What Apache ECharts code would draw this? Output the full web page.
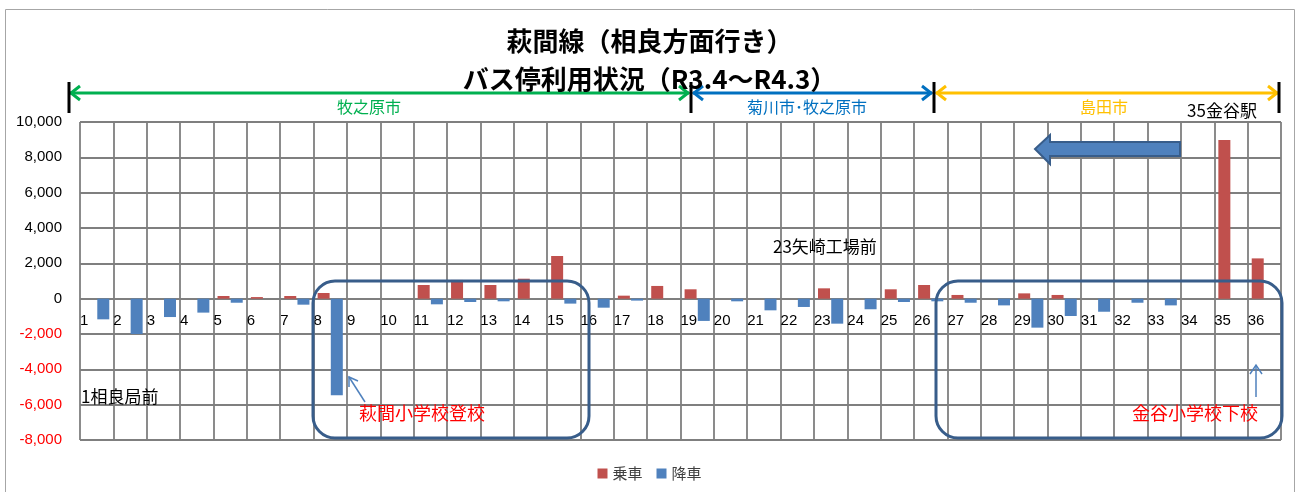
<!DOCTYPE html>
<html>
<head>
<meta charset="utf-8">
<script src="https://cdn.jsdelivr.net/npm/echarts@6/dist/echarts.min.js"></script>
<style>
  html, body { margin: 0; padding: 0; background: #fff; }
  #chart { width: 1299px; height: 492px; }
</style>
</head>
<body>
<div id="chart"></div>
<script>
// bus stops 1..36 (萩間線 相良方面行き)
var stops = ['1', '2', '3', '4', '5', '6', '7', '8', '9', '10', '11', '12',
  '13', '14', '15', '16', '17', '18', '19', '20', '21', '22', '23', '24',
  '25', '26', '27', '28', '29', '30', '31', '32', '33', '34', '35', '36'];

// 乗車 (boarding)
var boarding = [0, 0, 0, 0, 150, 90, 150, 320, 0, 0, 775, 1060,
  775, 1130, 2415, 0, 170, 720, 530, 0, 0, 0, 585, 0,
  530, 775, 210, 0, 300, 210, 0, 0, 0, 0, 8980, 2280];

// 降車 (alighting, drawn negative)
var alighting = [-1170, -2000, -1040, -790, -230, 0, -340, -5460, 0, 0, -320, -190,
  -150, 0, -280, -510, -110, 0, -1260, -150, -660, -470, -1415, -600,
  -190, -150, -230, -380, -1640, -980, -740, -230, -380, 0, 0, 0];

var gridColor = '#7f7f7f';
var font = "'Liberation Sans', 'Noto Sans CJK JP', sans-serif";
var cjk = "'Noto Sans CJK JP', sans-serif";

var chart = echarts.init(document.getElementById('chart'));

// double-headed horizontal arrow
function hArrow(x1, x2, y, color) {
  var st = { stroke: color, lineWidth: 3, fill: null };
  return [
    { type: 'line', shape: { x1: x1, y1: y, x2: x2, y2: y }, style: st },
    { type: 'polyline', shape: { points: [[x1 + 10, y - 7], [x1 + 1, y], [x1 + 10, y + 7]] }, style: st },
    { type: 'polyline', shape: { points: [[x2 - 10, y - 7], [x2 - 1, y], [x2 - 10, y + 7]] }, style: st }
  ];
}
function tick(x) {
  return { type: 'line', shape: { x1: x, y1: 82, x2: x, y2: 113 }, style: { stroke: '#000', lineWidth: 3 } };
}
function label(text, x, y, color, size, align) {
  return {
    type: 'text', z: 10,
    style: { text: text, x: x, y: y, fill: color, fontSize: size, fontFamily: cjk,
      align: align || 'center', verticalAlign: 'middle' }
  };
}

var marks = []
  .concat(hArrow(70, 689, 93, '#00b050'))
  .concat(hArrow(693, 932, 93, '#0070c0'))
  .concat(hArrow(936, 1278, 93, '#ffc000'))
  .concat([tick(69), tick(691), tick(934), tick(1279)]);

var option = {
  animation: false,
  textStyle: { fontFamily: font },
  title: {
    text: '萩間線（相良方面行き）\nバス停利用状況（R3.4～R4.3）',
    left: 'center',
    top: 17,
    textStyle: { fontSize: 26, fontWeight: 'bold', color: '#000', lineHeight: 38, fontFamily: cjk }
  },
  legend: {
    data: ['乗車', '降車'],
    top: 461,
    left: 'center',
    icon: 'rect',
    itemWidth: 10,
    itemHeight: 10,
    itemGap: 14,
    textStyle: { color: '#404040', fontSize: 15, fontFamily: cjk }
  },
  grid: { left: 80, right: 18, top: 122, bottom: 52 },
  xAxis: [{
    type: 'category',
    data: stops,
    axisLine: { show: false },
    axisTick: { show: false },
    axisLabel: { show: false },
    splitLine: { show: false }
  }, {
    // boundary axis: vertical grid lines and left-aligned stop numbers, lifted to the zero line
    type: 'category',
    position: 'bottom',
    boundaryGap: false,
    data: stops.concat(['']),
    axisLine: { show: false, onZero: false },
    axisTick: { show: false },
    axisLabel: { interval: 0, align: 'left', margin: -127, color: '#000', fontSize: 15 },
    splitLine: { show: true, interval: 0, lineStyle: { color: gridColor, width: 1.8 } }
  }],
  yAxis: {
    type: 'value',
    min: -8000,
    max: 10000,
    interval: 2000,
    axisLine: { show: false },
    axisTick: { show: false },
    axisLabel: {
      margin: 18,
      fontSize: 15,
      formatter: function (v) { return v.toLocaleString('en-US'); },
      color: function (v) { return Number(v) < 0 ? '#ff0000' : '#000'; }
    },
    splitLine: { lineStyle: { color: gridColor, width: 1.8 } }
  },
  series: [{
    name: '乗車',
    type: 'bar',
    data: boarding,
    barWidth: 12,
    barGap: '10%',
    itemStyle: { color: '#c0504d' }
  }, {
    name: '降車',
    type: 'bar',
    data: alighting,
    barWidth: 12,
    itemStyle: { color: '#4f81bd' }
  }],
  graphic: {
    elements: marks.concat([
      // outer chart frame
      { type: 'rect', shape: { x: 5.5, y: 9.5, width: 1289, height: 500 },
        style: { fill: null, stroke: '#a6a6a6', lineWidth: 1 }, silent: true },
      label('牧之原市', 369, 107, '#00b050', 16),
      label('菊川市･牧之原市', 807, 107, '#0070c0', 16),
      label('島田市', 1104, 107, '#ffc000', 16),
      label('35金谷駅', 1222, 111, '#000', 17),
      label('23矢崎工場前', 773, 247, '#000', 17, 'left'),
      label('1相良局前', 81, 397, '#000', 17, 'left'),
      label('萩間小学校登校', 359, 413, '#ff0000', 18, 'left'),
      label('金谷小学校下校', 1132, 413, '#ff0000', 18, 'left'),
      // big left-pointing arrow
      { type: 'polygon', z: 10,
        shape: { points: [[1035, 149], [1050, 135], [1050, 142], [1180, 142], [1180, 156], [1050, 156], [1050, 164]] },
        style: { fill: '#4f81bd', stroke: '#385d8a', lineWidth: 2 } },
      // rounded boxes
      { type: 'rect', z: 10, shape: { x: 313, y: 281, width: 276, height: 157, r: 22 },
        style: { fill: null, stroke: '#385d8a', lineWidth: 3 } },
      { type: 'rect', z: 10, shape: { x: 936, y: 281, width: 346, height: 157, r: 22 },
        style: { fill: null, stroke: '#385d8a', lineWidth: 3 } },
      // small pointer arrows
      { type: 'line', z: 10, shape: { x1: 365, y1: 402, x2: 349, y2: 377 },
        style: { stroke: '#4f81bd', lineWidth: 1.5 } },
      { type: 'polyline', z: 10, shape: { points: [[358, 381], [349, 377], [349, 387]] },
        style: { stroke: '#4f81bd', lineWidth: 1.5, fill: null } },
      { type: 'line', z: 10, shape: { x1: 1256, y1: 397, x2: 1256, y2: 365 },
        style: { stroke: '#4f81bd', lineWidth: 1.5 } },
      { type: 'polyline', z: 10, shape: { points: [[1250, 374], [1256, 365], [1262, 374]] },
        style: { stroke: '#4f81bd', lineWidth: 1.5, fill: null } }
    ])
  }
};

chart.setOption(option);
</script>
</body>
</html>
